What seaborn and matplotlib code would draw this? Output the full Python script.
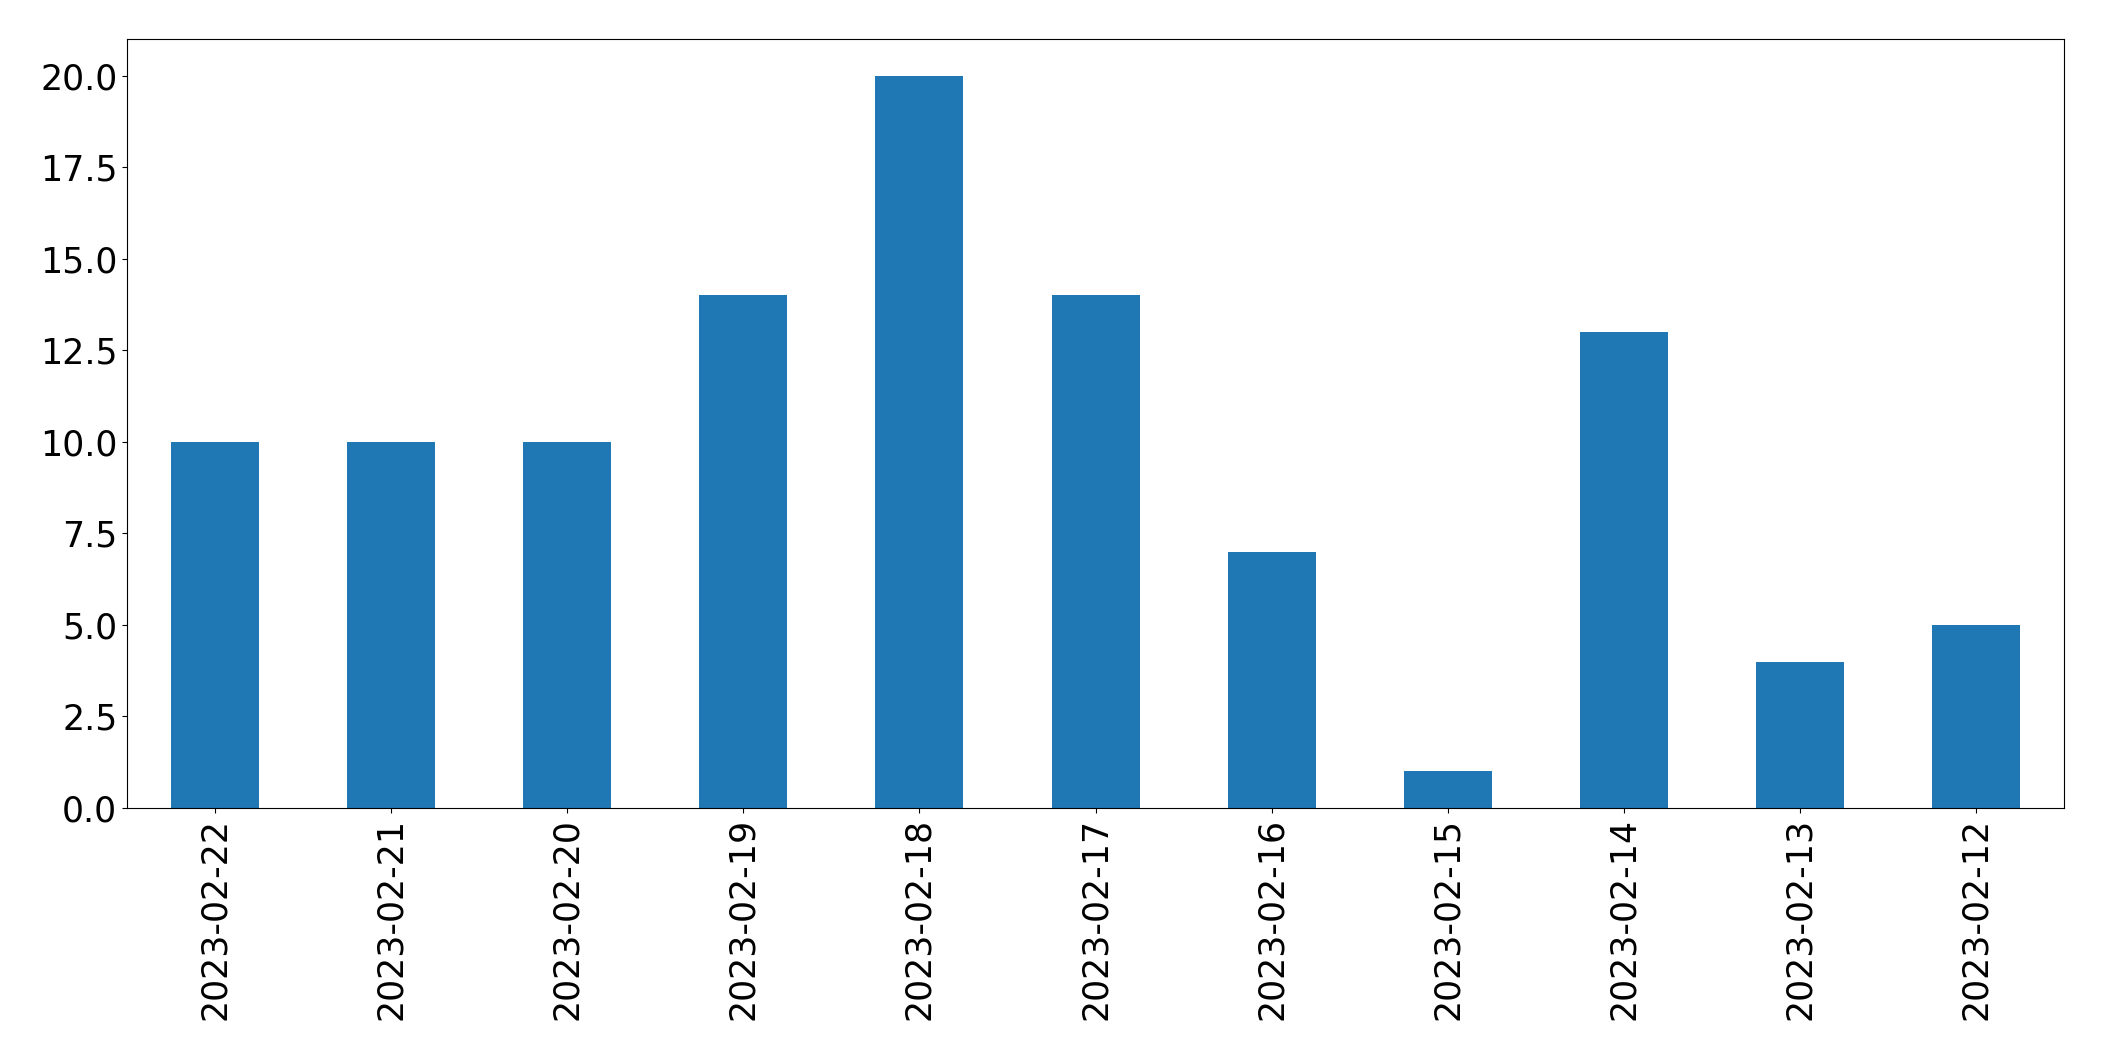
import seaborn as sns
import matplotlib.pyplot as plt
import pandas as pd

dates = ['2023-02-22', '2023-02-21', '2023-02-20', '2023-02-19', '2023-02-18',
         '2023-02-17', '2023-02-16', '2023-02-15', '2023-02-14', '2023-02-13',
         '2023-02-12']
counts = [10, 10, 10, 14, 20, 14, 7, 1, 13, 4, 5]

df = pd.DataFrame({'date': dates, 'count': counts})

fig, ax = plt.subplots(figsize=(21.04, 10.61), dpi=100)
sns.barplot(data=df, x='date', y='count', order=dates, color='#1f77b4',
            saturation=1, width=0.5, linewidth=0, ax=ax)

ax.set_xlim(-0.5, len(dates) - 0.5)
ax.set_ylim(0, 21)
ax.set_xlabel('')
ax.set_ylabel('')
ax.tick_params(axis='both', labelsize=25)
ax.tick_params(axis='x', labelrotation=90)
ax.yaxis.set_major_formatter(plt.FormatStrFormatter('%.1f'))
ax.set_yticks([0, 2.5, 5, 7.5, 10, 12.5, 15, 17.5, 20])

fig.subplots_adjust(left=0.0604, right=0.981, top=0.963, bottom=0.2385)
fig.savefig('out.png', dpi=100)
